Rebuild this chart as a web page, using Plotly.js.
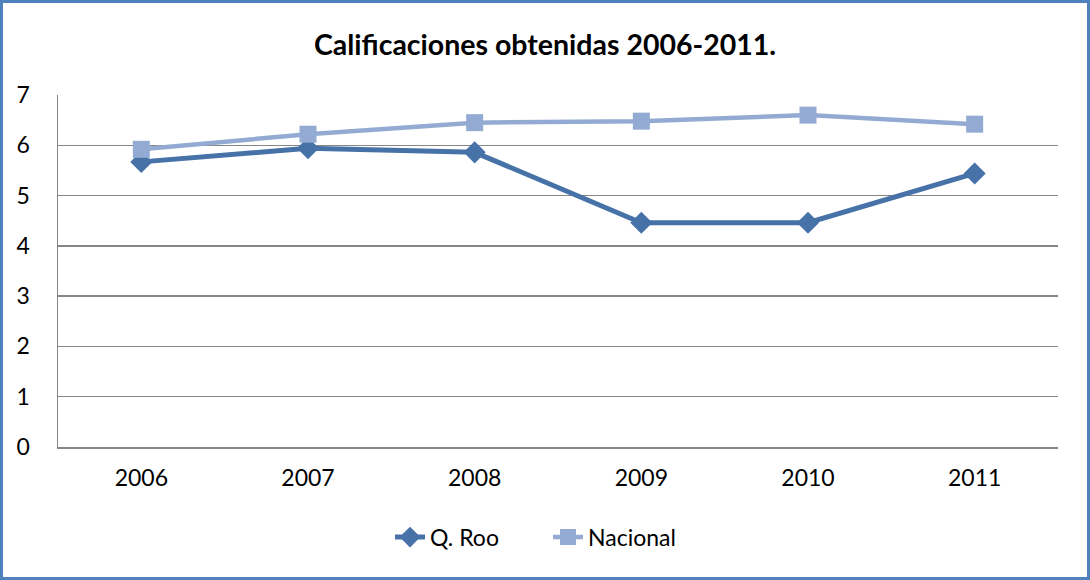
<!DOCTYPE html>
<html>
<head>
<meta charset="utf-8">
<script src="https://cdn.plot.ly/plotly-3.0.1.min.js"></script>
<style>
html,body{margin:0;padding:0;background:#fff;}
#wrap{position:relative;width:1090px;height:580px;}
#chart{width:1090px;height:580px;}
#frame{position:absolute;left:0;top:0;width:1090px;height:580px;box-sizing:border-box;border:3px solid #4F81BD;pointer-events:none;}
</style>
</head>
<body>
<div id="wrap"><div id="chart"></div><div id="frame"></div></div>
<script>
const years = ['2006','2007','2008','2009','2010','2011'];
const qroo = [5.67, 5.94, 5.86, 4.46, 4.46, 5.44];
const nacional = [5.92, 6.22, 6.45, 6.48, 6.60, 6.42];
const yTicks = [0,1,2,3,4,5,6,7];

const font = 'Lato, "Open Sans", "DejaVu Sans", sans-serif';

const traces = [
  {
    x: years, y: qroo, name: 'Q. Roo', type: 'scatter', mode: 'lines+markers',
    line: {color: '#4672A8', width: 5},
    marker: {symbol: 'diamond', size: 17, color: '#4672A8'}
  },
  {
    x: years, y: nacional, name: 'Nacional', type: 'scatter', mode: 'lines+markers',
    line: {color: '#93ABD3', width: 4.5},
    marker: {symbol: 'square', size: 17, color: '#93ABD3'}
  }
];

const layout = {
  width: 1090, height: 580,
  margin: {l: 58, r: 32, t: 95, b: 133},
  paper_bgcolor: '#ffffff', plot_bgcolor: '#ffffff',
  font: {family: font, size: 23, color: '#000'},
  title: {text: '<b>Calificaciones obtenidas 2006-2011.</b>', x: 0.5, xanchor: 'center', y: 0.922, yanchor: 'middle',
          font: {family: font, size: 28.5, color: '#000'}},
  xaxis: {
    type: 'category', range: [-0.5, 5.5], showgrid: false,
    showline: true, linecolor: '#868686', linewidth: 1.5,
    ticks: '', tickfont: {size: 23}, ticklabelstandoff: 10, fixedrange: true
  },
  yaxis: {
    range: [0, 7], tickvals: yTicks, ticktext: yTicks.map(String),
    showgrid: true, gridcolor: '#868686', gridwidth: 1.5,
    showline: true, linecolor: '#868686', linewidth: 1.5,
    zeroline: false, ticks: '', tickfont: {size: 23}, ticklabelstandoff: 22, fixedrange: true
  },
  showlegend: true,
  legend: {orientation: 'h', x: 0.49, xanchor: 'center', y: -0.256, yanchor: 'middle',
           font: {size: 23}, entrywidth: 113, entrywidthmode: 'pixels', bgcolor: 'rgba(0,0,0,0)'}
};

Plotly.newPlot('chart', traces, layout, {staticPlot: true, displayModeBar: false});
</script>
</body>
</html>
